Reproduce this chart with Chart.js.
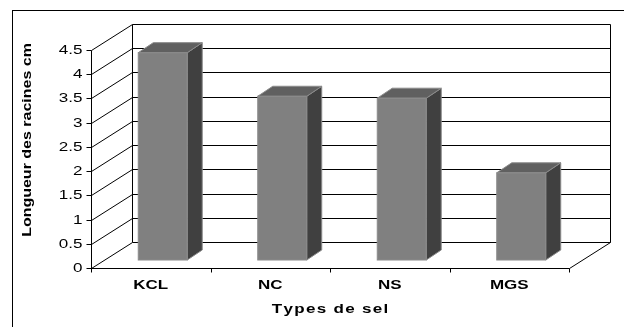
<!DOCTYPE html>
<html>
<head>
<meta charset="utf-8">
<script src="https://cdn.jsdelivr.net/npm/chart.js@4/dist/chart.umd.min.js"></script>
<style>
  html, body { margin: 0; padding: 0; background: #fff; }
  #wrap { width: 624px; height: 327px; position: relative; }
</style>
</head>
<body>
<div id="wrap"><canvas id="c"></canvas></div>
<script>
// Root length (cm) per salt type
const categories = ['KCL', 'NC', 'NS', 'MGS'];
const rootLength = [4.28, 3.38, 3.34, 1.80];
const yTickValues = [0, 0.5, 1, 1.5, 2, 2.5, 3, 3.5, 4, 4.5];
const xTitle = 'Types de sel';
const yTitle = 'Longueur des racines cm';

const FONT = '"Liberation Sans", Arial, sans-serif';
// 3-D box offsets relative to the plane where the bar fronts sit
const FRONT = { x: -12, y: 8 };   // front edge of floor / value axis
const BACK = { x: 29, y: -18 };   // back wall
const DEPTH = { x: 15, y: -10 };  // bar thickness

const crisp = v => Math.round(v) + 0.5;

function line(ctx, x1, y1, x2, y2) {
  ctx.beginPath();
  ctx.moveTo(x1, y1);
  ctx.lineTo(x2, y2);
  ctx.stroke();
}

// Text drawn with a horizontal stretch and optional letter spacing
function wideText(ctx, str, x, y, o) {
  ctx.save();
  ctx.translate(x, y);
  if (o.rotate) ctx.rotate(o.rotate);
  ctx.scale(o.sx || 1, 1);
  ctx.font = o.font;
  ctx.fillStyle = '#000';
  ctx.textAlign = 'left';
  ctx.textBaseline = o.baseline || 'middle';
  const sp = o.spacing || 0;
  const chars = [...str];
  const widths = chars.map(ch => ctx.measureText(ch).width);
  const total = sp ? widths.reduce((a, b) => a + b, 0) + sp * (chars.length - 1)
                   : ctx.measureText(str).width;
  let cx = o.align === 'right' ? -total : o.align === 'center' ? -total / 2 : 0;
  if (sp) {
    chars.forEach((ch, i) => { ctx.fillText(ch, cx, 0); cx += widths[i] + sp; });
  } else {
    ctx.fillText(str, cx, 0);
  }
  ctx.restore();
}

const box3d = {
  id: 'box3d',
  beforeDatasetsDraw(chart) {
    const ctx = chart.ctx;
    const xs = chart.scales.x, ys = chart.scales.y;
    const L = xs.left, R = xs.right;
    const bl = crisp(L + BACK.x), br = crisp(R + BACK.x);
    const yTop = ys.getPixelForValue(yTickValues[yTickValues.length - 1]);
    const y0 = ys.getPixelForValue(0);
    ctx.save();
    ctx.strokeStyle = '#000';
    ctx.lineWidth = 1;
    // back wall gridlines and left wall diagonals
    yTickValues.forEach(v => {
      const y = ys.getPixelForValue(v);
      const yb = crisp(y + BACK.y);
      line(ctx, bl, yb, br, yb);
      line(ctx, crisp(L + FRONT.x), crisp(y + FRONT.y), bl, yb);
    });
    // back wall edges
    line(ctx, bl, crisp(yTop + BACK.y), bl, crisp(y0 + BACK.y));
    line(ctx, br, crisp(yTop + BACK.y), br, crisp(y0 + BACK.y));
    // floor
    const yf = crisp(y0 + FRONT.y);
    line(ctx, crisp(R + FRONT.x), yf, br, crisp(y0 + BACK.y));
    ctx.restore();
  },
  afterDatasetsDraw(chart) {
    const ctx = chart.ctx;
    const meta = chart.getDatasetMeta(0);
    ctx.save();
    ctx.lineWidth = 1;
    ctx.strokeStyle = '#8a8a8a';
    meta.data.forEach(el => {
      const p = el.getProps(['x', 'y', 'base', 'width'], true);
      const l = p.x - p.width / 2, r = p.x + p.width / 2;
      const t = p.y, b = p.base;
      // side face
      ctx.fillStyle = '#404040';
      ctx.beginPath();
      ctx.moveTo(r, t);
      ctx.lineTo(r + DEPTH.x, t + DEPTH.y);
      ctx.lineTo(r + DEPTH.x, b + DEPTH.y);
      ctx.lineTo(r, b);
      ctx.closePath();
      ctx.fill();
      ctx.stroke();
      // top face
      ctx.fillStyle = '#606060';
      ctx.beginPath();
      ctx.moveTo(l, t);
      ctx.lineTo(l + DEPTH.x, t + DEPTH.y);
      ctx.lineTo(r + DEPTH.x, t + DEPTH.y);
      ctx.lineTo(r, t);
      ctx.closePath();
      ctx.fill();
      ctx.stroke();
      // front face outline
      ctx.strokeRect(l, t, p.width, b - t);
    });
    ctx.restore();
  },
  afterDraw(chart) {
    const ctx = chart.ctx;
    const xs = chart.scales.x, ys = chart.scales.y;
    const L = xs.left, R = xs.right;
    const xf = crisp(L + FRONT.x);
    const y0 = ys.getPixelForValue(0);
    const yTop = ys.getPixelForValue(yTickValues[yTickValues.length - 1]);
    ctx.save();
    ctx.strokeStyle = '#000';
    ctx.lineWidth = 1;
    // value axis with ticks and labels
    line(ctx, xf, crisp(yTop + FRONT.y), xf, crisp(y0 + FRONT.y) + 1);
    yTickValues.forEach(v => {
      const y = crisp(ys.getPixelForValue(v) + FRONT.y);
      line(ctx, xf - 5, y, xf, y);
      wideText(ctx, String(v), xf - 9, y, { font: '12px ' + FONT, sx: 1.42, align: 'right' });
    });
    // category axis (front edge of floor)
    const yf = crisp(y0 + FRONT.y);
    line(ctx, xf, yf, crisp(R + FRONT.x), yf);
    const cw = (R - L) / categories.length;
    for (let i = 0; i <= categories.length; i++) {
      const x = crisp(L + i * cw + FRONT.x);
      line(ctx, x, yf, x, yf + 4);
    }
    categories.forEach((c, i) => {
      const x = xs.getPixelForValue(i) + FRONT.x;
      wideText(ctx, c, x, yf + 17, { font: 'bold 12.5px ' + FONT, sx: 1.36, align: 'center' });
    });
    // axis titles
    wideText(ctx, xTitle, (L + R) / 2 + FRONT.x, yf + 41,
      { font: 'bold 12.5px ' + FONT, sx: 1.36, spacing: 0.95, align: 'center' });
    wideText(ctx, yTitle, 27, 140,
      { font: 'bold 13px ' + FONT, sx: 1.23, align: 'center', rotate: -Math.PI / 2 });
    // outer frame
    ctx.strokeRect(12.5, 10.5, 700, 400);
    ctx.restore();
  }
};

new Chart(document.getElementById('c'), {
  type: 'bar',
  data: {
    labels: categories,
    datasets: [{
      data: rootLength,
      backgroundColor: '#808080',
      borderWidth: 0,
      barPercentage: 0.41,
      categoryPercentage: 1
    }]
  },
  options: {
    responsive: true,
    maintainAspectRatio: false,
    animation: false,
    layout: { padding: { left: 103, top: 42, right: 43, bottom: 67 } },
    scales: {
      x: { display: false },
      y: { display: false, min: 0, max: 4.5, ticks: { stepSize: 0.5 } }
    },
    plugins: { legend: { display: false }, tooltip: { enabled: false } }
  },
  plugins: [box3d]
});
</script>
</body>
</html>
